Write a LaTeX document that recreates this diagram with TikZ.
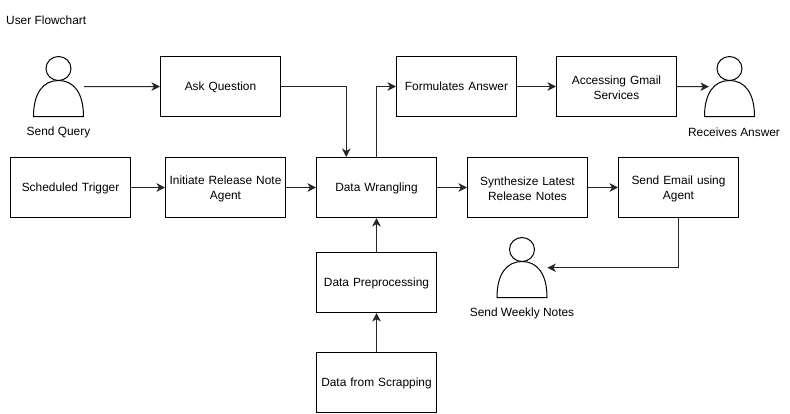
\documentclass[tikz,border=0pt]{standalone}
\usepackage{fontspec}
\setmainfont{Liberation Sans}
\usetikzlibrary{arrows.meta,calc}
\tikzset{
  flowbox/.style={draw=black,line width=1pt,fill=white,minimum width=120pt,minimum height=60pt,inner sep=2pt,align=center,text width=116pt,anchor=north west,font=\fontsize{11.9}{15}\selectfont,execute at end node={\par\vspace*{-3pt}}},
  actorbox/.style={minimum width=50pt,minimum height=60pt,inner sep=0pt,anchor=north west},
  caption/.style={font=\fontsize{11.9}{15}\selectfont,inner sep=0pt},
  link/.style={draw=black!85,line width=1pt,-{Stealth[length=8.5pt,width=8.5pt,inset=2.5pt]}},
  actorpic/.pic={
    \draw[black,line width=1pt] (25,12) ellipse (12.5 and 12);
    \draw[black,line width=1pt] (0,60) .. controls (0,36) and (10,24) .. (25,24) .. controls (40,24) and (50,36) .. (50,60) -- cycle;
  }
}
\begin{document}
\begin{tikzpicture}[x=1pt,y=-1pt]
\useasboundingbox (0,0) rectangle (790,413);
\node[caption,anchor=west] (title) at (6,20.5) {User Flowchart};
\node[flowbox] (ask) at (160,56) {Ask Question};
\node[flowbox] (form) at (396,56) {Formulates Answer};
\node[flowbox] (gmail) at (556,56) {Accessing Gmail\\Services};
\node[flowbox] (sched) at (10,157) {Scheduled Trigger};
\node[flowbox] (init) at (165,157) {Initiate Release Note\\Agent};
\node[flowbox] (dw) at (316,157) {Data Wrangling};
\node[flowbox] (synth) at (467,157) {Synthesize Latest\\Release Notes};
\node[flowbox] (email) at (618,157) {Send Email using\\Agent};
\node[flowbox] (prep) at (316,252) {Data Preprocessing};
\node[flowbox] (scrap) at (316,352) {Data from Scrapping};
\node[actorbox] (query) at (33.5,56.5) {};
\node[actorbox] (recv) at (704.5,56.5) {};
\node[actorbox] (weekly) at (497,237.5) {};
\pic at (query.north west) {actorpic};
\pic at (recv.north west) {actorpic};
\pic at (weekly.north west) {actorpic};
\node[caption] (lq) at (58.5,132.5) {Send Query};
\node[caption] (lr) at (734,132.5) {Receives Answer};
\node[caption] (lw) at (522,313.5) {Send Weekly Notes};
\draw[link] (query.east) -- (ask.west);
\draw[link] (ask.east) -| ($(dw.north west)!0.25!(dw.north east)$);
\draw[link] (dw.north) |- (form.west);
\draw[link] (form.east) -- (gmail.west);
\draw[link] (gmail.east) -- ($(recv.east)+(-46,0)$);
\draw[link] (sched.east) -- (init.west);
\draw[link] (init.east) -- (dw.west);
\draw[link] (dw.east) -- (synth.west);
\draw[link] (synth.east) -- (email.west);
\draw[link] (email.south) |- (weekly.east);
\draw[link] (prep.north) -- (dw.south);
\draw[link] (scrap.north) -- (prep.south);
\end{tikzpicture}
\end{document}
